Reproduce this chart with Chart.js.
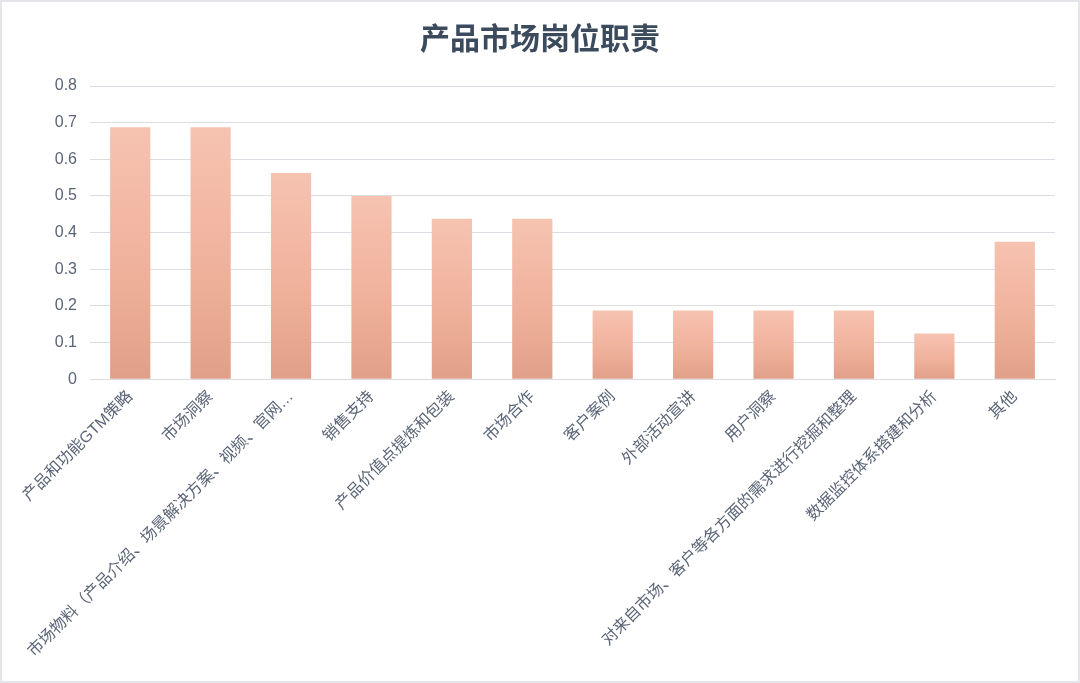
<!DOCTYPE html>
<html>
<head>
<meta charset="utf-8">
<script src="https://cdn.jsdelivr.net/npm/chart.js@4"></script>
<style>
  html, body { margin: 0; padding: 0; background: #ffffff; }
  #wrap { position: relative; width: 1080px; height: 683px; box-sizing: border-box; border: 2px solid #e4e6ea; }
</style>
</head>
<body>
<div id="wrap"><canvas id="bar-chart"></canvas></div>
<script>
// data
let categories = [
    '产品和功能GTM策略',
    '市场洞察',
    '市场物料（产品介绍、场景解决方案、视频、官网…',
    '销售支持',
    '产品价值点提炼和包装',
    '市场合作',
    '客户案例',
    '外部活动宣讲',
    '用户洞察',
    '对来自市场、客户等各方面的需求进行挖掘和整理',
    '数据监控体系搭建和分析',
    '其他'
]
let shares = [0.6875, 0.6875, 0.5625, 0.5, 0.4375, 0.4375, 0.1875, 0.1875, 0.1875, 0.1875, 0.125, 0.375]
let yTicks = [0, 0.1, 0.2, 0.3, 0.4, 0.5, 0.6, 0.7, 0.8]

let fontFamily = '"Liberation Sans", "Noto Sans CJK SC", sans-serif'
let textColor = '#5b6577'

// every bar gets its own gradient, light on top and darker at the base
function barGradient(context) {
    let chart = context.chart
    let area = chart.chartArea
    if (!area || !chart.scales.y) {
        return '#eeb19c'
    }
    let top = chart.scales.y.getPixelForValue(context.raw)
    let bottom = chart.scales.y.getPixelForValue(0)
    let g = chart.ctx.createLinearGradient(0, top, 0, bottom)
    g.addColorStop(0, '#f6c3b1')
    g.addColorStop(0.6, '#efb09a')
    g.addColorStop(1, '#e09f88')
    return g
}

new Chart(document.getElementById('bar-chart'), {
    type: 'bar',
    data: {
        labels: categories,
        datasets: [{
            data: shares,
            backgroundColor: barGradient,
            borderWidth: 0,
            categoryPercentage: 1,
            barPercentage: 0.5
        }]
    },
    options: {
        responsive: true,
        maintainAspectRatio: false,
        animation: false,
        layout: {
            padding: { left: 23, right: 23, top: 0, bottom: 12 }
        },
        plugins: {
            legend: { display: false },
            tooltip: { enabled: false },
            title: {
                display: true,
                text: '产品市场岗位职责',
                color: '#3c4a5e',
                font: { family: '"Noto Sans CJK SC", sans-serif', size: 30, weight: 'bold' },
                padding: { top: 18, bottom: 30 }
            }
        },
        scales: {
            x: {
                grid: { display: false, drawTicks: false },
                border: { display: true, color: '#dcdde3', width: 1 },
                ticks: {
                    autoSkip: false,
                    maxRotation: 45,
                    minRotation: 45,
                    padding: 8,
                    color: textColor,
                    font: { family: fontFamily, size: 16 }
                }
            },
            y: {
                min: 0,
                max: 0.8,
                afterBuildTicks: function(axis) {
                    axis.ticks = yTicks.map(function(v) { return { value: v } })
                },
                afterFit: function(axis) {
                    axis.width = 65
                },
                grid: { color: '#dcdde3', lineWidth: 1, drawTicks: false },
                border: { display: false },
                ticks: {
                    padding: 13,
                    color: textColor,
                    font: { family: fontFamily, size: 16 },
                    callback: function(v) { return String(v) }
                }
            }
        }
    }
});
</script>
</body>
</html>
